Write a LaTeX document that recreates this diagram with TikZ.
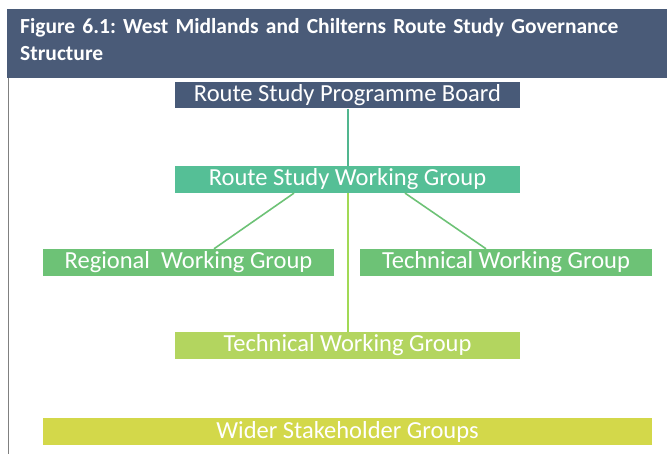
\documentclass[tikz,border=0pt]{standalone}
\usepackage{fontspec}
\setmainfont{Carlito}
\usetikzlibrary{positioning}

\definecolor{headblue}{HTML}{4A5B78}
\definecolor{boardblue}{HTML}{485A78}
\definecolor{rsgreen}{HTML}{55BF96}
\definecolor{wggreen}{HTML}{6DC276}
\definecolor{twlime}{HTML}{B3D55F}
\definecolor{wideryellow}{HTML}{D3D84A}

\begin{document}
\frenchspacing
\begin{tikzpicture}[
    x=1pt, y=-1pt,
    node distance=57pt and 26pt,
    box/.style={rectangle, inner sep=0pt, minimum height=27pt, text=white, font=\fontsize{24.5}{24.5}\selectfont},
    link/.style={line width=2pt}
]
\useasboundingbox (0,0) rectangle (667,454);

% Kopf
\fill[headblue] (7,9) rectangle (667,78);
\draw[gray, line width=1pt] (8,78) -- (8,454);
\node (title) [anchor=north west, inner sep=0pt, text width=630pt, text=white, align=left,
  font=\bfseries\fontsize{21.5}{27}\selectfont] at (20,18)
  {Figure 6.1: West Midlands and Chilterns Route Study Governance Structure};

% Knoten
\node (board) [box, fill=boardblue, minimum width=345pt, minimum height=26pt] at (347.5,95.5) {Route Study Programme Board};
\node (rswg) [box, fill=rsgreen, minimum width=345pt, below=of board] {Route Study Working Group};
\node (regional) [box, fill=wggreen, minimum width=291pt] at (188.5,262.5) {Regional\ \ Working Group};
\node (techwg) [box, fill=wggreen, minimum width=292pt] at (506,262.5) {Technical Working Group};
\node (techlow) [box, fill=twlime, minimum width=345pt] at (347.5,345.5) {Technical Working Group};
\node (wider) [box, fill=wideryellow, minimum width=609pt] at (347.5,431.5) {Wider Stakeholder Groups};

% Linien
\draw [link, rsgreen!95!black] (board) -- (rswg);
\draw [link, wggreen, line width=1.6pt] ([xshift=-53.5pt]rswg.south) -- ([xshift=25.5pt]regional.north);
\draw [link, wggreen, line width=1.6pt] ([xshift=57.5pt]rswg.south) -- ([xshift=-20pt]techwg.north);
\draw [link, twlime!90!green] (rswg) -- (techlow);

\end{tikzpicture}
\end{document}
